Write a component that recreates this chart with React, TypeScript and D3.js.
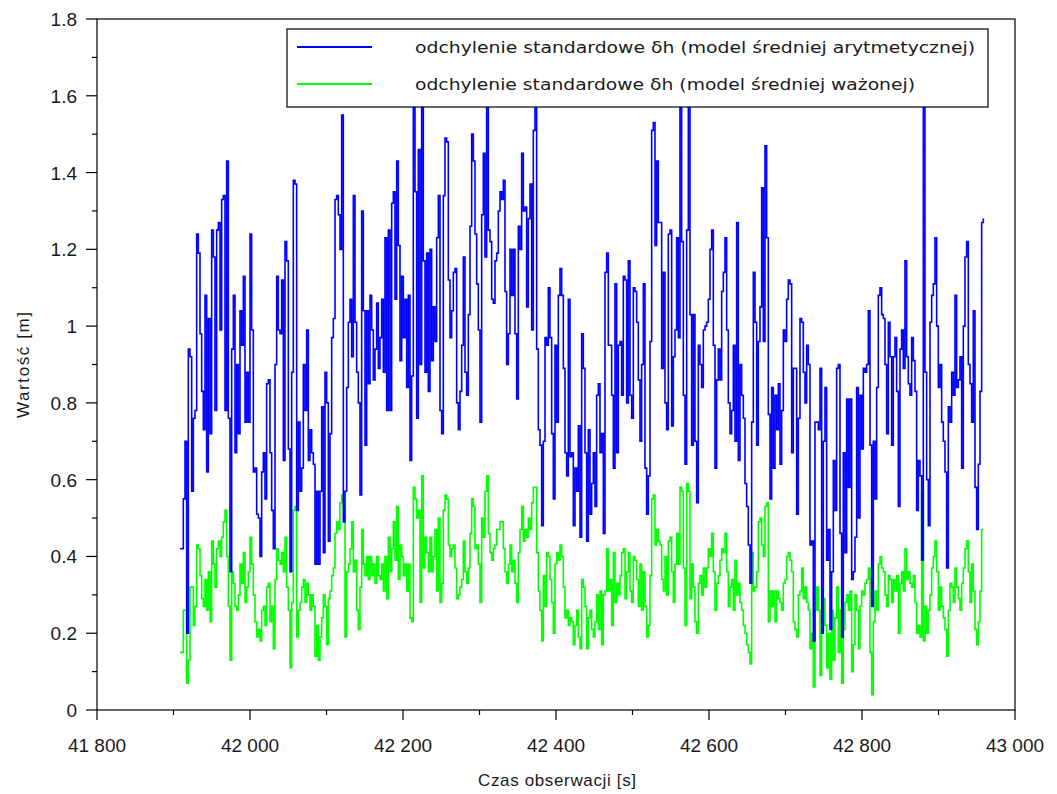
import React from "react";
import * as d3 from "d3";

const T0 = 41908.5;
const DT = 2.1786;

const blueValues: number[] = [
  0.42,0.42,0.55,0.70,0.20,0.94,0.92,0.57,0.76,0.78,
  1.24,1.19,0.98,0.83,0.73,1.08,0.62,1.02,0.72,1.25,
  1.18,0.78,1.25,1.27,0.99,1.33,1.34,0.78,1.43,0.76,
  0.36,0.94,1.08,0.67,0.90,0.72,1.04,0.95,1.13,0.75,
  0.88,0.75,1.24,0.99,0.62,0.63,0.51,0.50,0.40,0.62,
  0.67,0.55,0.85,0.86,0.67,0.52,0.42,0.90,1.13,0.99,
  0.98,1.12,0.65,1.22,1.17,0.68,0.36,0.88,1.38,1.37,
  0.52,0.75,0.57,0.63,0.90,0.78,0.99,0.65,0.73,0.67,
  0.64,0.38,0.57,0.38,0.57,0.79,0.41,0.88,0.80,0.44,
  0.72,0.97,1.02,1.33,1.34,1.29,1.20,1.55,0.49,0.57,
  0.84,1.01,1.07,0.92,1.34,1.01,0.88,0.80,0.56,1.30,
  1.04,0.69,1.04,0.85,1.08,0.99,0.86,0.94,1.06,0.89,
  0.97,1.07,0.88,1.23,0.78,1.25,0.78,
  1.32,1.35,1.07,1.43,1.21,0.91,1.13,0.97,1.07,0.84,
  1.08,0.65,0.87,1.70,1.35,0.76,1.46,0.90,1.72,1.17,
  0.88,1.19,0.83,1.20,0.91,1.05,0.96,1.23,1.34,0.78,
  0.72,1.34,1.49,1.48,1.12,0.97,1.04,1.14,1.15,0.80,
  0.73,0.83,0.95,1.18,0.88,0.82,1.03,1.26,1.50,1.43,
  1.24,1.11,0.99,0.75,1.29,1.45,1.18,1.75,1.25,1.22,
  1.07,1.06,1.17,1.19,1.30,1.35,1.33,1.38,1.09,0.90,
  0.98,1.20,1.08,1.20,0.98,0.81,1.26,1.20,1.45,1.30,
  1.31,1.05,1.28,1.37,0.99,1.51,1.62,0.94,0.73,0.69,
  0.48,0.70,0.97,0.95,1.10,0.97,0.72,0.55,0.95,0.75,
  1.08,1.15,1.08,0.89,0.67,0.61,1.07,0.66,0.67,0.48,
  0.63,0.57,0.74,0.45,0.98,0.89,0.67,0.44,0.73,0.51,
  0.59,0.67,0.53,0.82,0.85,0.67,
  0.72,0.46,1.14,1.19,0.95,0.95,0.82,0.63,1.11,0.67,
  0.95,0.96,0.82,1.13,1.12,0.80,1.17,0.82,0.76,1.10,
  1.09,1.01,0.86,0.70,0.90,1.11,0.63,0.51,0.61,0.96,
  1.51,1.53,1.21,1.43,1.27,1.27,0.89,1.14,0.80,0.73,
  1.24,1.25,0.74,0.92,0.99,1.23,0.97,1.72,1.22,0.82,
  0.64,1.25,1.70,1.03,0.69,1.03,0.70,0.54,0.95,0.90,
  0.84,0.99,1.00,1.01,1.07,1.20,1.25,0.95,0.63,0.86,
  0.94,0.86,1.09,1.14,1.23,0.99,0.80,0.72,0.78,0.95,
  0.70,1.27,0.65,0.90,0.82,0.76,0.59,0.53,0.43,0.33,
  0.75,1.14,1.01,0.69,0.96,1.05,1.36,0.96,1.47,1.23,
  0.77,0.55,0.84,0.63,0.82,0.73,0.85,0.64,0.78,0.99,
  0.96,1.07,1.12,1.11,0.67,0.89,0.89,0.51,0.76,1.02,
  1.01,0.88,0.80,0.95,0.90,0.43,
  0.44,0.18,0.75,0.75,0.73,0.89,0.20,0.70,0.84,0.39,
  0.47,0.21,0.36,0.65,0.52,0.89,0.90,0.46,0.19,0.67,
  0.41,0.81,0.58,0.81,0.34,0.36,0.45,0.84,0.50,0.82,
  0.68,0.89,0.88,0.90,1.04,0.69,0.27,0.70,0.55,0.84,
  1.08,1.10,1.03,1.02,0.90,0.72,1.01,0.92,0.69,0.92,
  0.97,0.83,0.53,0.94,0.99,0.89,1.17,0.92,0.85,0.82,
  0.97,0.91,0.83,0.52,0.65,0.61,0.39,1.70,0.88,0.60,
  0.48,1.01,1.08,1.11,1.23,1.00,0.84,0.90,0.75,0.70,
  0.62,0.37,0.79,0.75,0.88,0.82,1.08,0.84,0.86,0.92,
  0.63,1.00,1.18,1.22,0.90,0.85,0.75,1.04,0.58,0.47,
  0.64,0.83,1.27,1.28,
];

const greenValues: number[] = [
  0.15,0.15,0.26,0.26,0.07,0.13,0.32,0.32,0.22,0.27,
  0.43,0.42,0.35,0.29,0.27,0.34,0.26,0.36,0.23,0.44,
  0.38,0.32,0.42,0.44,0.40,0.45,0.49,0.52,0.40,0.27,
  0.13,0.36,0.33,0.27,0.26,0.30,0.38,0.33,0.41,0.28,
  0.32,0.36,0.45,0.38,0.30,0.23,0.19,0.21,0.18,0.26,
  0.27,0.22,0.32,0.33,0.23,0.27,0.16,0.34,0.42,0.39,
  0.38,0.41,0.36,0.45,0.32,0.26,0.11,0.28,0.52,0.53,
  0.19,0.26,0.28,0.32,0.34,0.28,0.33,0.30,0.26,0.30,
  0.27,0.14,0.22,0.13,0.19,0.24,0.30,0.27,0.17,0.29,
  0.31,0.35,0.37,0.46,0.49,0.47,0.54,0.56,0.53,0.19,
  0.36,0.38,0.42,0.49,0.36,0.39,0.26,0.21,0.32,0.47,
  0.38,0.35,0.40,0.34,0.40,0.35,0.38,0.33,0.40,0.35,
  0.34,0.38,0.31,0.40,0.29,0.45,0.36,
  0.42,0.49,0.39,0.53,0.34,0.43,0.40,0.35,0.38,0.31,
  0.38,0.24,0.23,0.58,0.55,0.50,0.52,0.28,0.61,0.37,
  0.45,0.41,0.36,0.45,0.36,0.40,0.47,0.31,0.50,0.28,
  0.33,0.52,0.56,0.55,0.43,0.40,0.42,0.43,0.37,0.29,
  0.30,0.32,0.34,0.44,0.36,0.33,0.37,0.46,0.55,0.53,
  0.42,0.43,0.38,0.28,0.50,0.45,0.57,0.61,0.46,0.41,
  0.39,0.42,0.43,0.47,0.47,0.49,0.49,0.42,0.36,0.33,
  0.38,0.43,0.36,0.39,0.33,0.28,0.41,0.47,0.53,0.44,
  0.47,0.45,0.50,0.47,0.54,0.58,0.58,0.41,0.31,0.26,
  0.18,0.35,0.27,0.41,0.40,0.34,0.28,0.20,0.38,0.41,
  0.39,0.43,0.40,0.32,0.24,0.26,0.22,0.24,0.23,0.17,
  0.22,0.26,0.19,0.16,0.34,0.32,0.27,0.16,0.24,0.26,
  0.21,0.19,0.23,0.30,0.21,0.31,
  0.17,0.30,0.31,0.42,0.31,0.34,0.22,0.41,0.28,0.33,
  0.30,0.35,0.41,0.42,0.29,0.36,0.41,0.31,0.28,0.40,
  0.39,0.34,0.27,0.38,0.26,0.36,0.27,0.19,0.22,0.35,
  0.55,0.56,0.43,0.47,0.44,0.43,0.34,0.31,0.40,0.30,
  0.44,0.45,0.36,0.28,0.38,0.46,0.38,0.58,0.57,0.37,
  0.22,0.59,0.57,0.29,0.38,0.32,0.23,0.20,0.33,0.35,
  0.30,0.37,0.32,0.37,0.42,0.40,0.46,0.36,0.26,0.33,
  0.35,0.39,0.42,0.41,0.46,0.36,0.27,0.32,0.34,0.26,
  0.39,0.30,0.33,0.28,0.26,0.22,0.20,0.17,0.15,0.12,
  0.41,0.31,0.32,0.36,0.49,0.50,0.43,0.40,0.53,0.54,
  0.23,0.31,0.27,0.31,0.23,0.31,0.29,0.28,0.26,0.33,
  0.34,0.40,0.41,0.39,0.36,0.23,0.21,0.19,0.30,0.31,
  0.37,0.29,0.32,0.28,0.26,0.16,
  0.20,0.06,0.26,0.32,0.26,0.09,0.20,0.29,0.22,0.11,
  0.20,0.08,0.26,0.13,0.24,0.32,0.15,0.26,0.07,0.21,
  0.28,0.30,0.26,0.31,0.10,0.17,0.30,0.26,0.16,0.27,
  0.31,0.30,0.33,0.34,0.37,0.15,0.04,0.23,0.31,0.26,
  0.38,0.40,0.37,0.36,0.30,0.27,0.35,0.34,0.28,0.34,
  0.31,0.35,0.20,0.33,0.36,0.31,0.42,0.34,0.36,0.33,
  0.32,0.35,0.28,0.20,0.22,0.19,0.57,0.18,0.27,0.20,
  0.26,0.30,0.37,0.40,0.44,0.36,0.26,0.32,0.27,0.24,
  0.21,0.14,0.26,0.33,0.32,0.28,0.37,0.32,0.29,0.26,
  0.33,0.37,0.42,0.44,0.36,0.28,0.38,0.31,0.21,0.17,
  0.23,0.31,0.47,0.47,
];

const xMajorTicks = [41800, 42000, 42200, 42400, 42600, 42800, 43000];
const xMinorTicks = [41900, 42100, 42300, 42500, 42700, 42900];
const yMajorTicks = [0, 0.2, 0.4, 0.6, 0.8, 1, 1.2, 1.4, 1.6, 1.8];
const yMinorTicks = [0.1, 0.3, 0.5, 0.7, 0.9, 1.1, 1.3, 1.5, 1.7];
const seriesLabels = [
  "odchylenie standardowe δh (model średniej arytmetycznej)",
  "odchylenie standardowe δh (model średniej ważonej)",
];
const seriesColors = ["#0000ff", "#00ff00"];
const xTitle = "Czas obserwacji [s]";
const yTitle = "Wartość [m]";

const FONT = "'Liberation Sans', Arial, Helvetica, sans-serif";
const LEGEND_FONT = "'DejaVu Sans', Verdana, sans-serif";

export default function App() {
  const x = d3.scaleLinear().domain([41800, 43000]).range([97, 1015]);
  const y = d3.scaleLinear().domain([0, 1.8]).range([710, 19]);
  const fmtX = d3
    .formatLocale({ decimal: ".", thousands: " ", grouping: [3], currency: ["", ""] })
    .format(",");
  const line = d3
    .line<number>()
    .x((_, i) => x(T0 + i * DT))
    .y((d) => y(d))
    .curve(d3.curveStepAfter);

  const [x0, x1] = x.range();
  const [y0, y1] = y.range();

  return (
    <svg
      width={1057}
      height={794}
      style={{ position: "absolute", left: 0, top: 0, background: "#fff" }}
      fontFamily={FONT}
    >
      <rect x={0} y={0} width={1057} height={794} fill="#fff" />
      {/* series */}
      <path d={line(greenValues) || ""} fill="none" stroke={seriesColors[1]} strokeWidth={1.6} />
      <path d={line(blueValues) || ""} fill="none" stroke={seriesColors[0]} strokeWidth={1.6} />

      {/* frame */}
      <rect x={x0} y={y1} width={x1 - x0} height={y0 - y1} fill="none" stroke="#000" strokeWidth={1.2} />

      {/* y ticks */}
      {yMajorTicks.map((v) => (
        <g key={"ym" + v}>
          <line x1={x0 - 11} x2={x0} y1={y(v)} y2={y(v)} stroke="#000" strokeWidth={1.2} />
          <text x={77} y={y(v) + 7} textAnchor="end" fontSize={19} fill="#1a1a1a">
            {String(v)}
          </text>
        </g>
      ))}
      {yMinorTicks.map((v) => (
        <line key={"yn" + v} x1={x0 - 5} x2={x0} y1={y(v)} y2={y(v)} stroke="#000" strokeWidth={1.2} />
      ))}

      {/* x ticks */}
      {xMajorTicks.map((v) => (
        <g key={"xm" + v}>
          <line x1={x(v)} x2={x(v)} y1={y0} y2={y0 + 10} stroke="#000" strokeWidth={1.2} />
          <text x={x(v)} y={752} textAnchor="middle" fontSize={19} fill="#1a1a1a">
            {fmtX(v)}
          </text>
        </g>
      ))}
      {xMinorTicks.map((v) => (
        <line key={"xn" + v} x1={x(v)} x2={x(v)} y1={y0} y2={y0 + 5} stroke="#000" strokeWidth={1.2} />
      ))}

      {/* titles */}
      <text
        x={557}
        y={786}
        textAnchor="middle"
        fontSize={17}
        fill="#1a1a1a"
        textLength={158}
        lengthAdjust="spacing"
      >
        {xTitle}
      </text>
      <text
        transform="translate(29,365) rotate(-90)"
        textAnchor="middle"
        fontSize={17}
        fill="#1a1a1a"
        textLength={106}
        lengthAdjust="spacing"
      >
        {yTitle}
      </text>

      {/* legend */}
      <rect x={287} y={29} width={701} height={78} fill="#fff" stroke="#000" strokeWidth={1.2} />
      {seriesLabels.map((lab, i) => (
        <g key={lab}>
          <line
            x1={297}
            x2={372}
            y1={47 + i * 37}
            y2={47 + i * 37}
            stroke={seriesColors[i]}
            strokeWidth={2}
          />
          <text
            x={415}
            y={53 + i * 37}
            fontSize={16}
            fontFamily={LEGEND_FONT}
            fill="#1a1a1a"
            textLength={i === 0 ? 560 : 500}
            lengthAdjust="spacingAndGlyphs"
          >
            {lab}
          </text>
        </g>
      ))}
    </svg>
  );
}
